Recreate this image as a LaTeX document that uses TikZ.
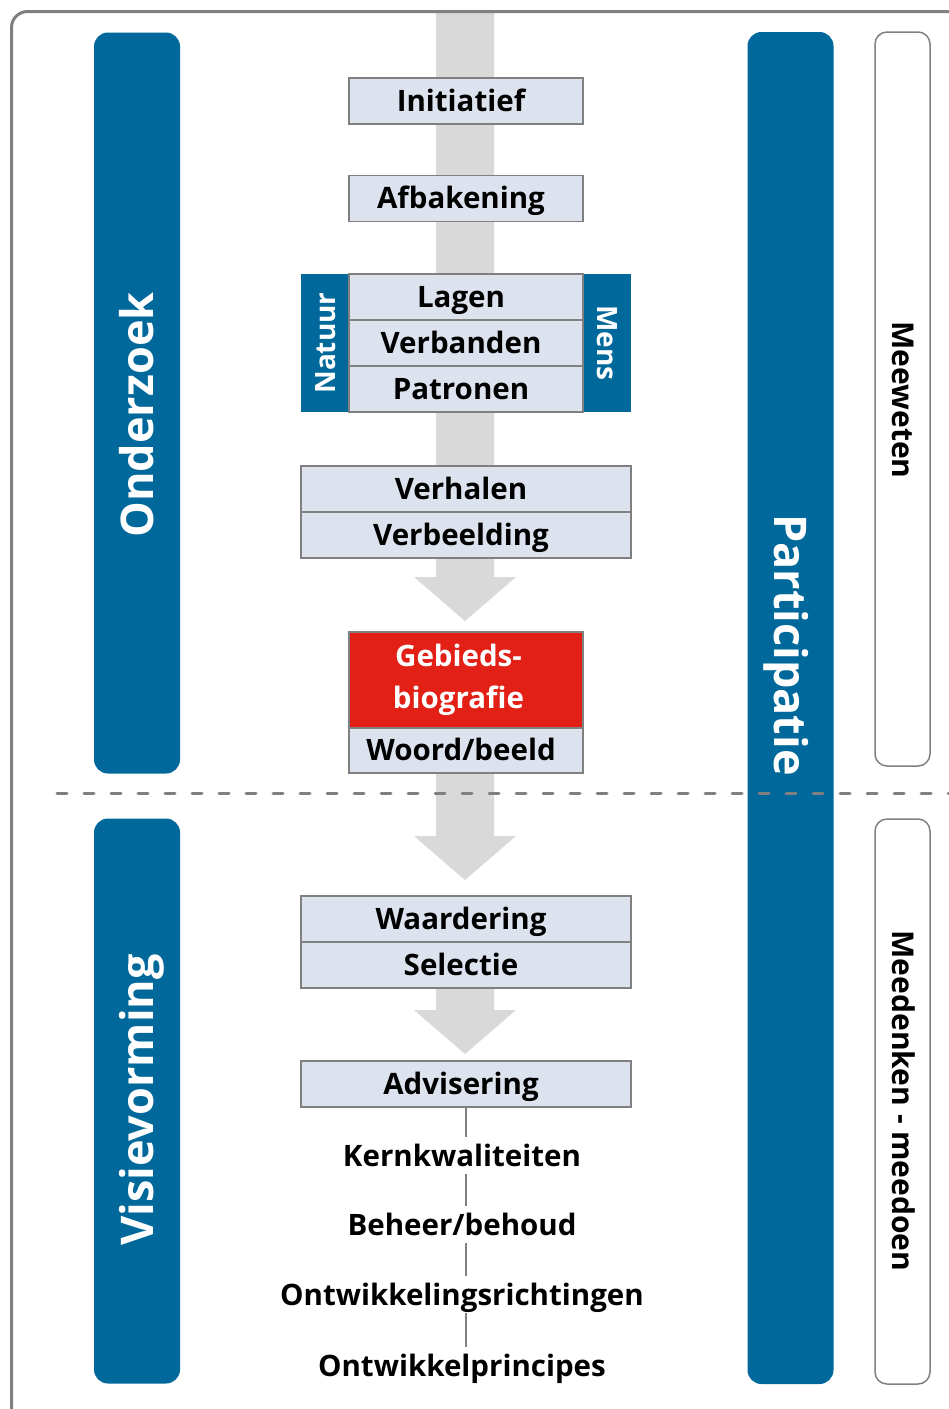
\documentclass[tikz,border=0pt]{standalone}
\usepackage{fontspec}
\setmainfont{Open Sans}
\usepackage{tikz}

\definecolor{blauw}{RGB}{0,104,155}
\definecolor{rood}{RGB}{226,32,22}
\definecolor{lichtblauw}{RGB}{221,227,238}
\definecolor{stroomgrijs}{RGB}{217,217,217}
\definecolor{randgrijs}{RGB}{128,128,128}

\tikzset{
	stap/.style={draw=randgrijs, line width=1.5pt, fill=lichtblauw, minimum width=234pt, minimum height=46pt, inner sep=0pt, text height=21pt, text depth=1pt, font=\bfseries\fontsize{29.5}{35}\selectfont, execute at begin node={\hspace*{-10pt}}},
	bredestap/.style={stap, minimum width=330pt},
	fase/.style={fill=blauw, rounded corners=14pt, minimum width=86pt, inner sep=0pt},
	fasetekst/.style={text=white, inner sep=0pt, text height=32pt, text depth=0pt, font=\bfseries\fontsize{45}{50}\selectfont},
	zijlabel/.style={fill=blauw, text=white, inner sep=0pt, minimum width=138pt, minimum height=48pt, text height=20pt, text depth=0pt, font=\bfseries\fontsize{28}{30}\selectfont},
	niveau/.style={draw=randgrijs, line width=1.5pt, rounded corners=12pt, minimum width=55pt, inner sep=0pt},
	niveautekst/.style={inner sep=0pt, text height=21pt, text depth=0pt, font=\bfseries\fontsize{30}{32}\selectfont},
	advies/.style={inner xsep=0pt, inner ysep=8pt, text height=21pt, text depth=0pt, font=\bfseries\fontsize{29.5}{35}\selectfont},
	lijn/.style={draw=randgrijs, line width=1.5pt}
}

\begin{document}
\begin{tikzpicture}[x=1pt, y=-1pt]
		\clip (0,0) rectangle (949,1409);
		\fill[white] (0,0) rectangle (949,1409);

		% grijze stroom met pijlen
		\fill[stroomgrijs] (436,10) -- (494,10) -- (494,577) -- (516,577) -- (465,621) -- (414,577) -- (436,577) -- cycle;
		\fill[stroomgrijs] (436,773) -- (494,773) -- (494,836) -- (516,836) -- (465,880) -- (414,836) -- (436,836) -- cycle;
		\fill[stroomgrijs] (436,988) -- (494,988) -- (494,1010) -- (516,1010) -- (465,1054) -- (414,1010) -- (436,1010) -- cycle;

		% kader
		\draw[randgrijs, line width=3pt, rounded corners=16pt] (11.5,11.5) rectangle (990,1440);

		% fasen links en participatie rechts
		\node[fase, minimum height=741pt] (onderzoek) at (137,403) {};
		\node[fasetekst, rotate=90] (onderzoektekst) at (137,415) {Onderzoek};
		\node[fase, minimum height=565pt] (visie) at (137,1101) {};
		\node[fasetekst, rotate=90] (visietekst) at (137,1100) {Visievorming};
		\node[fase, minimum height=1352pt] (participatie) at (790.5,708) {};
		\node[fasetekst, rotate=-90] (participatietekst) at (790,645) {Participatie};

		% niveaus van participatie
		\node[niveau, minimum height=734pt] (meeweten) at (902.5,399) {};
		\node[niveautekst, rotate=-90] (meewetentekst) at (903,400) {Meeweten};
		\node[niveau, minimum height=565pt] (meedenken) at (902.5,1101.5) {};
		\node[niveautekst, rotate=-90] (meedenkentekst) at (903,1101) {Meedenken - meedoen};

		% stappen onderzoek
		\node[stap] (initiatief) at (466,101) {Initiatief};
		\node[stap] (afbakening) at (466,198.5) {Afbakening};
		\node[zijlabel, rotate=90] (natuur) at (325,343) {Natuur};
		\node[zijlabel, rotate=-90] (mens) at (607,343) {Mens};
		\node[stap] (lagen) at (466,297) {Lagen};
		\node[stap] (verbanden) at (466,343) {Verbanden};
		\node[stap] (patronen) at (466,389) {Patronen};
		\node[bredestap] (verhalen) at (466,489) {Verhalen};
		\node[bredestap] (verbeelding) at (466,535) {Verbeelding};
		\node[stap, fill=rood, text=white, minimum height=96pt, align=center, text height=, text depth=, execute at begin node={}, font=\bfseries\fontsize{29.5}{42}\selectfont] (gebied) at (466,680) {\hspace*{-5pt}Gebieds-\\\hspace*{-5pt}biografie};
		\node[stap, minimum height=45pt] (woordbeeld) at (466,750.5) {Woord/beeld};

		% scheiding
		\draw[randgrijs, line width=3pt, line cap=round, dash pattern=on 10pt off 17pt] (57,793) -- (949,793);

		% stappen visievorming
		\node[bredestap] (waardering) at (466,919) {Waardering};
		\node[bredestap] (selectie) at (466,965) {Selectie};
		\node[bredestap] (advisering) at (466,1084) {Advisering};

		\node[advies] (kern) at (462,1155.5) {Kernkwaliteiten};
		\node[advies] (beheer) at (462,1224.5) {Beheer/behoud};
		\node[advies] (richting) at (462,1294.5) {Ontwikkelingsrichtingen};
		\node[advies] (principe) at (462,1366) {Ontwikkelprincipes};

		\draw[lijn] (advisering.south) -- (advisering.south |- kern.north);
		\draw[lijn] (advisering.south |- kern.south) -- (advisering.south |- beheer.north);
		\draw[lijn] (advisering.south |- beheer.south) -- (advisering.south |- richting.north);
		\draw[lijn] (advisering.south |- richting.south) -- (advisering.south |- principe.north);
	\end{tikzpicture}
\end{document}
